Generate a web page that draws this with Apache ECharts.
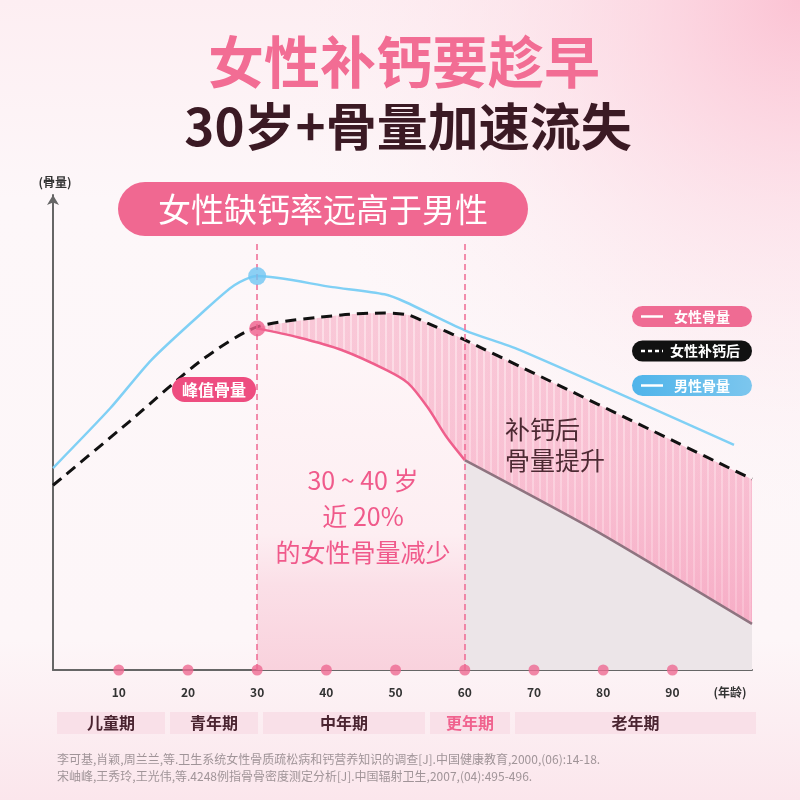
<!DOCTYPE html>
<html>
<head>
<meta charset="utf-8">
<script src="https://cdn.jsdelivr.net/npm/echarts@6/dist/echarts.min.js"></script>
<style>
  html, body { margin: 0; padding: 0; }
  #main { width: 800px; height: 800px; }
</style>
</head>
<body>
<div id="main"></div>
<script>
// 数据（年龄, 骨量）
const tickAges = [10, 20, 30, 40, 50, 60, 70, 80, 90]
const maleBone = [[0.5, 42.1], [8.8, 54.6], [14.7, 64.6], [22, 74.4], [26.7, 80.2], [30, 82.1], [40.9, 79.8], [48.4, 78.3], [51.4, 76.7], [60, 70.8], [67.9, 66.7], [98.9, 46.9]]
const femaleAfterCa = [[0.5, 38.5], [11.8, 52.1], [22, 64.6], [30, 71.5], [42.2, 74.0], [48.4, 74.4], [51.8, 74.0], [54.6, 72.3], [60, 68.8], [101.5, 39.8]]
const femaleBone = [[30, 71.2], [36, 69.3], [42.2, 66.7], [48.7, 62.5], [51.8, 59.8], [54.6, 54.8], [57.4, 48.5], [60, 43.75], [78.7, 29.2], [101.5, 9.6]]
const periods = ['儿童期', '青年期', '中年期', '更年期', '老年期']
const references = [
  '李可基,肖颖,周兰兰,等.卫生系统女性骨质疏松病和钙营养知识的调查[J].中国健康教育,2000,(06):14-18.',
  '宋岫峰,王秀玲,王光伟,等.4248例指骨骨密度测定分析[J].中国辐射卫生,2007,(04):495-496.'
]

const FONT = '"Noto Sans CJK SC", "Noto Sans", sans-serif'
const chart = echarts.init(document.getElementById('main'))

// 竖条纹填充
const stripe = document.createElement('canvas')
stripe.width = 7
stripe.height = 4
const sctx = stripe.getContext('2d')
sctx.fillStyle = 'rgba(246,160,188,0.55)'
sctx.fillRect(0, 0, 7, 4)
sctx.fillStyle = 'rgba(255,235,241,0.7)'
sctx.fillRect(0, 0, 2, 4)

const hatchData = femaleAfterCa.filter(d => d[0] >= 30)
const femaleEarly = femaleBone.filter(d => d[0] <= 60)
const femaleLate = femaleBone.filter(d => d[0] >= 60)

// 时期条
const periodBoxes = [[57, 165], [170, 258], [263, 425], [430, 510], [515, 756]]
const periodGraphics = periods.map((name, i) => ({
  type: 'group',
  z: 50,
  children: [
    { type: 'rect', shape: { x: periodBoxes[i][0], y: 712, width: periodBoxes[i][1] - periodBoxes[i][0], height: 22 },
      style: { fill: '#f9e0e8' } },
    { type: 'text', x: (periodBoxes[i][0] + periodBoxes[i][1]) / 2, y: 723,
      style: { text: name, fill: name === '更年期' ? '#f0628e' : '#4a2430', font: 'bold 16px ' + FONT, align: 'center', verticalAlign: 'middle' } }
  ]
}))

// 图例
const legendItems = [
  { name: '女性骨量', fill: '#ef6b93', dash: null },
  { name: '女性补钙后', fill: '#111111', dash: [4, 3] },
  { name: '男性骨量', fill: new echarts.graphic.LinearGradient(0, 0, 1, 0, [{ offset: 0, color: '#4fb4ea' }, { offset: 1, color: '#7cc6ee' }]), dash: null }
]
const legendGraphics = legendItems.map((it, i) => {
  const y = 306 + i * 34.5
  return {
    type: 'group', z: 60,
    children: [
      { type: 'rect', shape: { x: 632, y: y, width: 120, height: 21, r: 10.5 }, style: { fill: it.fill } },
      { type: 'line', shape: { x1: 641, y1: y + 10.5, x2: 663, y2: y + 10.5 },
        style: { stroke: '#fff', lineWidth: 2.5, lineDash: it.dash } },
      { type: 'text', x: it.dash ? 670 : 674, y: y + 10.5,
        style: { text: it.name, fill: '#fff', font: 'bold 14px ' + FONT, verticalAlign: 'middle' } }
    ]
  }
})

const option = {
  backgroundColor: new echarts.graphic.LinearGradient(0, 0, 0, 1, [
    { offset: 0, color: '#fdeef2' },
    { offset: 0.25, color: '#fdf7f9' },
    { offset: 0.8, color: '#fdf6f8' },
    { offset: 1, color: '#fbe6ec' }
  ]),
  animation: false,
  grid: { left: 53, right: 48, top: 195, bottom: 130 },
  xAxis: {
    type: 'value',
    min: 0.5,
    max: 101.5,
    splitLine: { show: false },
    axisTick: { show: false },
    axisLine: { lineStyle: { color: '#666', width: 2 } },
    axisLabel: { customValues: tickAges, color: '#333', fontFamily: FONT, fontSize: 12, fontWeight: 'bold', margin: 16 }
  },
  yAxis: {
    type: 'value',
    min: 0,
    max: 99,
    splitLine: { show: false },
    axisTick: { show: false },
    axisLabel: { show: false },
    axisLine: { show: true, symbol: ['none', 'arrow'], symbolSize: [9, 10], lineStyle: { color: '#666', width: 2 } }
  },
  graphic: [
    { type: 'circle', z: -1, shape: { cx: 800, cy: 0, r: 520 },
      style: { fill: new echarts.graphic.RadialGradient(0.5, 0.5, 0.5, [
        { offset: 0, color: 'rgba(251,190,208,0.9)' },
        { offset: 0.5, color: 'rgba(252,215,226,0.45)' },
        { offset: 1, color: 'rgba(253,240,244,0)' }]) } },
    { type: 'text', x: 404, y: 62, z: 60,
      style: { text: '女性补钙要趁早', fill: '#f26d94', font: 'bold 56px ' + FONT, align: 'center', verticalAlign: 'middle' } },
    { type: 'text', x: 408, y: 127, z: 60,
      style: { text: '30岁+骨量加速流失', fill: '#3b1a24', font: 'bold 51px ' + FONT, align: 'center', verticalAlign: 'middle' } },
    { type: 'text', x: 55, y: 182, z: 60,
      style: { text: '(骨量)', fill: '#333', font: 'bold 12px ' + FONT, align: 'center', verticalAlign: 'middle' } },
    { type: 'text', x: 730, y: 692, z: 60,
      style: { text: '(年龄)', fill: '#333', font: 'bold 12px ' + FONT, align: 'center', verticalAlign: 'middle' } },
    { type: 'rect', z: 60, shape: { x: 118, y: 182, width: 410, height: 54, r: 27 }, style: { fill: '#f06891' } },
    { type: 'text', x: 323, y: 209, z: 61,
      style: { text: '女性缺钙率远高于男性', fill: '#fff', font: '33px ' + FONT, align: 'center', verticalAlign: 'middle' } },
    { type: 'rect', z: 60, shape: { x: 172, y: 377, width: 84, height: 25, r: 12.5 }, style: { fill: '#ee4d80' } },
    { type: 'text', x: 214, y: 389.5, z: 61,
      style: { text: '峰值骨量', fill: '#fff', font: 'bold 16px ' + FONT, align: 'center', verticalAlign: 'middle' } },
    { type: 'text', x: 363, y: 516, z: 61,
      style: { text: '30 ~ 40 岁\n近 20%\n的女性骨量减少', fill: '#f05a8b', font: '25px ' + FONT, lineHeight: 36, align: 'center', verticalAlign: 'middle' } },
    { type: 'text', x: 505, y: 445, z: 61,
      style: { text: '补钙后\n骨量提升', fill: '#4d2a33', font: '25px ' + FONT, lineHeight: 31, align: 'left', verticalAlign: 'middle' } },
    { type: 'text', x: 57, y: 768, z: 61,
      style: { text: references.join('\n'), fill: '#a09498', font: '12px ' + FONT, lineHeight: 17, align: 'left', verticalAlign: 'middle' } },
    ...periodGraphics,
    ...legendGraphics
  ],
  series: [
    // 补钙后提升区域：条纹
    { type: 'line', data: hatchData, smooth: 0.25, symbol: 'none', z: 1,
      lineStyle: { width: 0 },
      areaStyle: { color: { image: stripe, repeat: 'repeat' }, opacity: 1 } },
    { type: 'line', data: hatchData, smooth: 0.25, symbol: 'none', z: 1,
      lineStyle: { width: 0 },
      areaStyle: { color: new echarts.graphic.LinearGradient(0, 320, 0, 640, [
        { offset: 0, color: 'rgba(250,200,215,0.15)' },
        { offset: 1, color: 'rgba(243,130,170,0.6)' }], true) } },
    // 女性骨量 30~60
    { type: 'line', name: '女性骨量', data: femaleEarly, smooth: 0.3, symbol: 'none', z: 3,
      lineStyle: { color: '#ef5f8c', width: 2.5 },
      areaStyle: { opacity: 1, color: new echarts.graphic.LinearGradient(0, 330, 0, 670, [
        { offset: 0, color: '#fef6f8' },
        { offset: 0.6, color: '#fdeef2' },
        { offset: 0.75, color: '#fbdfe7' },
        { offset: 1, color: '#f9d2dd' }], true) },
      markLine: {
        silent: true, symbol: 'none', label: { show: false },
        lineStyle: { color: '#ee6a92', type: [6, 4], width: 1.5 },
        data: [
          [{ coord: [30, 0] }, { coord: [30, 89.5] }],
          [{ coord: [60, 0] }, { coord: [60, 89.5] }]
        ]
      } },
    // 女性骨量 60 以后
    { type: 'line', data: femaleLate, smooth: 0.2, symbol: 'none', z: 3,
      lineStyle: { color: '#8f7480', width: 2.5 },
      areaStyle: { opacity: 1, color: '#ece5e8' } },
    // 女性补钙后
    { type: 'line', name: '女性补钙后', data: femaleAfterCa, smooth: 0.25, symbol: 'none', z: 4,
      lineStyle: { color: '#111', width: 3, type: [11, 7] } },
    // 男性骨量
    { type: 'line', name: '男性骨量', data: maleBone, smooth: 0.25, symbol: 'none', z: 4,
      lineStyle: { color: '#80d0f5', width: 2.5 } },
    // 峰值点
    { type: 'scatter', z: 5, data: [maleBone[5]], symbolSize: 18, itemStyle: { color: '#6fc6f2' } },
    { type: 'scatter', z: 5, data: [femaleBone[0]], symbolSize: 16, itemStyle: { color: '#ef5f8c' } },
    // 坐标轴刻度点
    { type: 'scatter', z: 6, clip: false, data: tickAges.map(a => [a, 0]), symbolSize: 11, itemStyle: { color: '#ee6a92' } }
  ]
}

chart.setOption(option)
</script>
</body>
</html>
